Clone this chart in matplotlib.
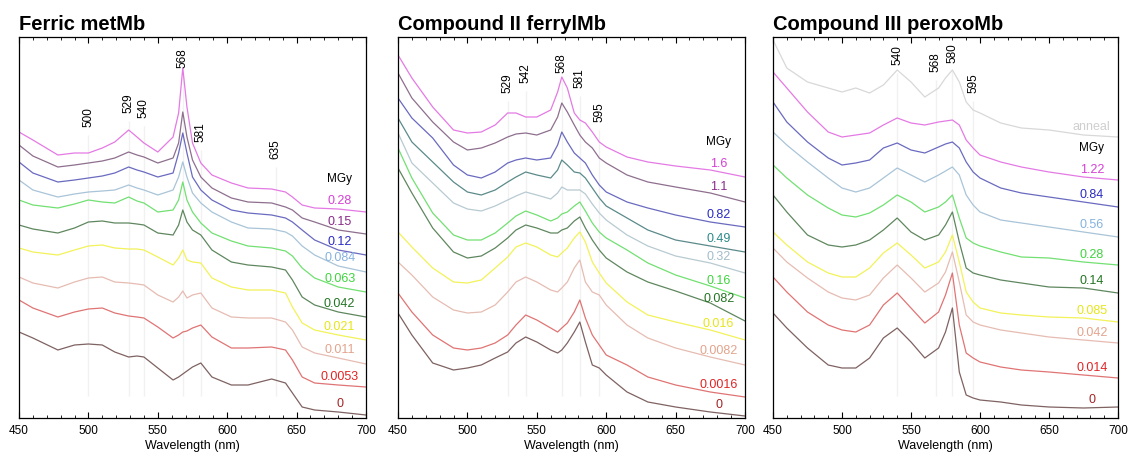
import numpy as np
import matplotlib.pyplot as plt

plt.rcParams['font.family'] = ['Liberation Sans', 'DejaVu Sans']

# ---------------- Ferric metMb ----------------
met_wl = [450, 460, 478, 490, 500, 510, 519, 529, 535, 540, 550, 561, 565, 568,
          571, 575, 581, 589, 603, 615, 632, 642, 647, 654, 663, 680, 700]
met_doses = ['0.28', '0.15', '0.12', '0.084', '0.063', '0.042', '0.021', '0.011', '0.0053', '0']
met_spectra = [
    [286, 278, 263, 265, 265, 270, 276, 288, 281, 275, 266, 281, 305, 350, 311, 275, 255, 243, 235, 230, 229, 226, 221, 213, 210, 209, 206],
    [273, 262, 251, 253, 255, 257, 260, 266, 263, 261, 255, 260, 275, 306, 281, 258, 241, 230, 220, 216, 215, 211, 208, 200, 196, 188, 184],
    [256, 245, 236, 238, 240, 242, 245, 251, 248, 246, 241, 245, 265, 285, 265, 241, 228, 218, 208, 205, 203, 200, 196, 188, 178, 168, 163],
    [238, 228, 221, 224, 226, 227, 228, 233, 230, 228, 223, 228, 241, 256, 241, 225, 215, 206, 196, 190, 189, 186, 182, 172, 163, 152, 146],
    [218, 213, 210, 214, 218, 216, 215, 221, 217, 215, 206, 208, 218, 236, 218, 206, 195, 185, 177, 172, 170, 167, 162, 150, 140, 131, 126],
    [193, 189, 185, 190, 196, 197, 195, 195, 194, 193, 185, 183, 193, 208, 196, 188, 183, 168, 156, 153, 151, 148, 138, 121, 113, 106, 101],
    [170, 166, 163, 168, 172, 173, 170, 169, 169, 168, 161, 153, 160, 168, 158, 156, 155, 140, 131, 128, 128, 125, 111, 95, 88, 83, 78],
    [141, 135, 130, 136, 140, 141, 136, 135, 134, 133, 123, 116, 121, 127, 120, 123, 125, 110, 101, 100, 100, 96, 88, 71, 65, 60, 54],
    [118, 110, 101, 106, 109, 110, 105, 102, 101, 100, 91, 80, 83, 86, 87, 90, 93, 81, 70, 70, 71, 68, 58, 41, 35, 33, 31],
    [86, 80, 68, 73, 74, 73, 66, 61, 62, 61, 50, 38, 41, 44, 47, 51, 55, 41, 33, 33, 39, 35, 25, 11, 8, 6, 3],
]
met_peaks = [500, 529, 540, 568, 581, 635]

# ---------------- Compound II ferrylMb ----------------
fer_wl = [450, 460, 475, 490, 500, 510, 520, 529, 535, 542, 550, 560, 565, 568,
          572, 577, 581, 585, 590, 595, 600, 615, 630, 650, 675, 700]
fer_doses = ['1.6', '1.1', '0.82', '0.49', '0.32', '0.16', '0.082', '0.016', '0.0082', '0.0016', '0']
fer_spectra = [
    [363, 340, 311, 288, 285, 286, 293, 305, 305, 301, 301, 308, 326, 341, 330, 305, 298, 295, 286, 276, 271, 261, 256, 252, 248, 241],
    [345, 320, 296, 276, 268, 270, 275, 281, 284, 285, 283, 288, 301, 315, 306, 293, 283, 276, 270, 260, 255, 243, 236, 231, 225, 216],
    [320, 300, 280, 253, 243, 240, 246, 255, 258, 260, 258, 260, 273, 286, 276, 265, 260, 255, 243, 233, 226, 216, 210, 203, 196, 191],
    [300, 276, 256, 236, 226, 223, 228, 236, 241, 246, 243, 240, 248, 258, 253, 246, 245, 240, 230, 220, 212, 200, 188, 178, 172, 166],
    [285, 255, 235, 215, 209, 207, 212, 218, 222, 226, 223, 219, 225, 231, 228, 228, 228, 224, 214, 205, 198, 183, 172, 162, 155, 145],
    [270, 240, 205, 183, 178, 178, 185, 195, 202, 207, 203, 197, 200, 204, 206, 212, 216, 207, 195, 186, 180, 168, 155, 143, 132, 120],
    [250, 225, 190, 166, 160, 162, 170, 180, 188, 193, 190, 185, 185, 188, 190, 197, 201, 190, 178, 168, 160, 146, 136, 127, 115, 97],
    [186, 171, 150, 136, 135, 138, 150, 161, 171, 175, 171, 163, 161, 165, 170, 180, 186, 176, 156, 145, 135, 116, 103, 96, 88, 78],
    [156, 143, 121, 108, 105, 106, 113, 126, 136, 141, 136, 128, 126, 130, 136, 150, 158, 136, 126, 123, 113, 93, 80, 70, 61, 53],
    [125, 106, 83, 70, 68, 70, 75, 83, 93, 103, 98, 90, 86, 90, 95, 106, 118, 100, 83, 73, 63, 53, 41, 33, 26, 21],
    [105, 83, 55, 48, 50, 53, 60, 66, 75, 81, 76, 68, 65, 68, 75, 86, 96, 76, 53, 50, 43, 26, 16, 11, 6, 2],
]
fer_peaks = [529, 542, 568, 581, 595]

# ---------------- Compound III peroxoMb ----------------
per_wl = [450, 460, 475, 490, 500, 510, 520, 530, 540, 550, 560, 570, 575, 580,
          585, 590, 595, 600, 615, 630, 650, 675, 700]
per_anneal = [378, 350, 336, 330, 326, 330, 325, 333, 348, 336, 321, 330, 340, 348,
              336, 316, 308, 305, 295, 290, 288, 283, 281]
per_doses = ['1.22', '0.84', '0.56', '0.28', '0.14', '0.085', '0.042', '0.014', '0']
per_spectra = [
    [346, 330, 306, 286, 281, 283, 285, 293, 300, 295, 293, 296, 297, 298, 293, 278, 270, 263, 256, 251, 246, 241, 238],
    [316, 296, 276, 260, 253, 255, 258, 270, 275, 268, 265, 271, 274, 276, 270, 256, 246, 240, 230, 225, 221, 216, 211],
    [286, 273, 256, 240, 230, 226, 230, 240, 250, 243, 236, 243, 247, 251, 243, 223, 213, 206, 198, 195, 191, 186, 181],
    [253, 240, 223, 210, 203, 201, 205, 213, 223, 216, 206, 211, 216, 223, 200, 180, 175, 172, 166, 161, 160, 156, 153],
    [223, 206, 183, 173, 171, 173, 178, 188, 200, 186, 178, 183, 193, 206, 176, 150, 145, 143, 138, 135, 131, 130, 125],
    [186, 173, 156, 145, 141, 141, 150, 165, 175, 163, 150, 156, 166, 183, 156, 126, 116, 110, 105, 103, 101, 100, 96],
    [170, 156, 140, 126, 120, 118, 123, 140, 153, 140, 126, 135, 146, 166, 136, 103, 96, 93, 88, 85, 81, 78, 75],
    [141, 126, 106, 93, 88, 86, 93, 113, 125, 110, 95, 106, 123, 145, 93, 65, 60, 56, 51, 48, 46, 43, 40],
    [105, 90, 70, 53, 50, 50, 60, 80, 90, 76, 60, 70, 86, 110, 46, 23, 20, 18, 16, 13, 11, 10, 11],
]
per_peaks = [540, 568, 580, 595]

MAGENTA = ('#e47ae4', '#d63fd6')
PURPLE = ('#8e6f8e', '#8a2a8a')
BLUE = ('#6a6ac0', '#2a2ac4')
LBLUE = ('#a9c4d8', '#86b2de')
GREEN = ('#72e072', '#3fd43f')
DGREEN = ('#5f875f', '#237323')
YELLOW = ('#f2f25a', '#e6e61a')
PEACH = ('#e6bcb2', '#e2a48c')
RED = ('#e07474', '#e02424')
BROWN = ('#7f6262', '#a32424')
TEAL = ('#5c8a8a', '#2a8a8a')
GREYBLUE = ('#b8cad2', '#a2bccc')


def draw_panel(ax, title, wl, doses, spectra, colors, peaks, peak_y, line_top):
    for vals, (lc, tc), dose in zip(spectra, colors, doses):
        ax.plot(wl, vals, color=lc, lw=0.9)
        ly = np.interp(681, wl, vals) + 8
        ax.text(681, ly, dose, color=tc, fontsize=9, ha='center', va='center')
    top_label = np.interp(681, wl, spectra[0]) + 8
    ax.text(681, top_label + 22, 'MGy', color='black', fontsize=8.5, ha='center', va='center')
    for p, py in zip(peaks, peak_y):
        # faint marker line for each band
        ax.vlines(p, 22, py - line_top, color='#f1f1f1', lw=1.0, zorder=0)
        ax.text(p, py, str(p), rotation=90, fontsize=8.5, ha='center', va='center')
    ax.set_xlim(450, 700)
    ax.set_ylim(0, 381)
    ax.set_xticks(np.arange(450, 701, 50))
    ax.set_xticks(np.arange(450, 701, 10), minor=True)
    ax.set_yticks([])
    ax.tick_params(axis='x', which='both', direction='in', top=True, labelsize=8.5, pad=5)
    ax.tick_params(axis='x', which='major', length=4)
    ax.tick_params(axis='x', which='minor', length=2.5)
    for s in ax.spines.values():
        s.set_linewidth(0.9)
    ax.set_xlabel('Wavelength (nm)', fontsize=9, labelpad=2)
    ax.set_title(title, loc='left', fontsize=14.5, fontweight='bold', pad=5)


fig = plt.figure(figsize=(11.3, 4.59), dpi=100)
ax1 = fig.add_axes([19 / 1130, 41 / 459, 347 / 1130, 381 / 459])
ax2 = fig.add_axes([398 / 1130, 41 / 459, 347 / 1130, 381 / 459])
ax3 = fig.add_axes([773 / 1130, 41 / 459, 345 / 1130, 381 / 459])

draw_panel(ax1, 'Ferric metMb', met_wl, met_doses, met_spectra,
           [MAGENTA, PURPLE, BLUE, LBLUE, GREEN, DGREEN, YELLOW, PEACH, RED, BROWN],
           met_peaks, [301, 315, 310, 360, 286, 269], 18)
draw_panel(ax2, 'Compound II ferrylMb', fer_wl, fer_doses, fer_spectra,
           [MAGENTA, PURPLE, BLUE, TEAL, GREYBLUE, GREEN, DGREEN, YELLOW, PEACH, RED, BROWN],
           fer_peaks, [335, 345, 355, 340, 306], 18)
draw_panel(ax3, 'Compound III peroxoMb', per_wl, per_doses, per_spectra,
           [MAGENTA, BLUE, LBLUE, GREEN, DGREEN, YELLOW, PEACH, RED, BROWN],
           per_peaks, [363, 356, 365, 335], 18)

ax3.plot(per_wl, per_anneal, color='#d8d8d8', lw=0.9)
ax3.text(681, np.interp(681, per_wl, per_anneal) + 8, 'anneal', color='#cfcfcf',
         fontsize=9, ha='center', va='center')

fig.savefig('out.png', dpi=100)
